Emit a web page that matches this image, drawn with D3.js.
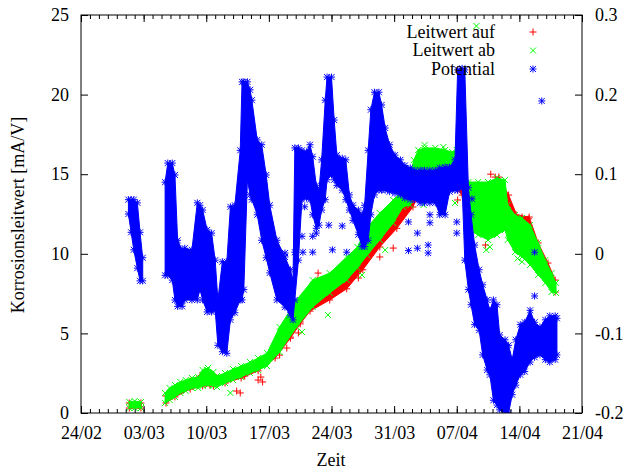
<!DOCTYPE html>
<html>
<head>
<meta charset="utf-8">
<script src="https://cdn.jsdelivr.net/npm/d3@7"></script>
<style>
	body { margin: 0; background: #fff; }
	#diagramm text { font-family: 'Liberation Serif', 'DejaVu Serif', serif; font-size: 18px; }
</style>
</head>
<body>
<svg id="diagramm" width="624" height="470"></svg>
<script>
/* global d3 */

// Achsen und Beschriftung
var xTickTage = [0, 7, 14, 21, 28, 35, 42, 49, 56];
var xTickLabels = ['24/02', '03/03', '10/03', '17/03', '24/03', '31/03', '07/04', '14/04', '21/04'];
var yLinksTicks = [0, 5, 10, 15, 20, 25];
var yRechtsTicks = [-0.2, -0.1, 0, 0.1, 0.2, 0.3];
var yRechtsLabels = ['-0.2', '-0.1', '0', '0.1', '0.2', '0.3'];
var legendeTexte = ['Leitwert auf', 'Leitwert ab', 'Potential'];

// Potential [V] als Band: [Tag seit 24/02, obere Kante, untere Kante], null = Luecke
var potBand = [
	[5.3, 0.068, 0.050], [5.6, 0.068, 0.027], [5.9, 0.068, 0.005], [6.3, 0.064, -0.018],
	[6.6, 0.027, -0.034], [6.9, -0.005, -0.034], [8.0, null, null],
	[9.4, 0.090, -0.027], [9.7, 0.114, -0.027], [10.2, 0.114, -0.033], [10.5, 0.099, -0.058],
	[10.8, 0.017, -0.066], [11.3, 0.005, -0.066], [11.6, 0.007, -0.058], [12.4, 0.005, -0.058],
	[13.0, 0.064, -0.058], [13.3, 0.061, -0.045], [13.6, 0.055, -0.058], [14.1, 0.030, -0.073],
	[14.6, 0.026, -0.073], [15.0, -0.008, -0.071], [15.3, -0.058, -0.115], [15.8, -0.010, -0.123],
	[16.3, -0.010, -0.125], [16.7, 0.059, -0.083], [17.2, 0.061, -0.074], [17.8, 0.130, -0.058],
	[18.0, 0.216, -0.058], [18.2, 0.216, -0.045], [18.6, 0.216, 0.093], [18.9, 0.206, 0.074],
	[19.1, 0.193, 0.068], [19.7, 0.143, 0.049], [20.2, 0.137, 0.017], [20.7, 0.099, -0.005],
	[21.1, 0.061, -0.024], [21.9, 0.017, -0.058], [22.8, -0.004, -0.067], [23.4, -0.020, -0.077],
	[23.7, -0.033, -0.083], [23.9, 0.133, -0.058], [24.3, 0.133, -0.008], [24.7, 0.130, 0.068],
	[25.2, 0.128, 0.070], [25.6, 0.137, 0.068], [25.9, 0.122, 0.049], [26.3, 0.086, 0.032],
	[26.6, 0.080, 0.036], [26.9, 0.118, 0.055], [27.3, 0.193, 0.068], [27.5, 0.222, 0.093],
	[28.0, 0.222, 0.099], [28.3, 0.168, 0.093], [28.6, 0.124, 0.086], [29.2, 0.120, 0.080],
	[29.6, 0.118, 0.068], [30.0, 0.074, 0.055], [30.4, 0.061, 0.042], [31.0, 0.055, 0.024],
	[31.4, 0.049, 0.009], [31.7, 0.061, 0.009], [32.1, 0.130, 0.017], [32.4, 0.181, 0.049],
	[32.8, 0.203, 0.074], [33.3, 0.203, 0.080], [33.6, 0.187, 0.080], [34.0, 0.158, 0.080],
	[34.5, 0.137, 0.078], [35.1, 0.124, 0.076], [35.7, 0.118, 0.074], [36.2, 0.111, 0.070],
	[36.8, 0.108, 0.068], [37.3, 0.105, 0.068], [37.9, 0.105, 0.064], [38.4, 0.105, 0.064],
	[39.0, 0.105, 0.064], [39.6, 0.105, 0.064], [40.1, 0.108, 0.049], [40.7, 0.109, 0.049],
	[41.2, 0.109, 0.078], [41.8, 0.118, 0.080], [42.1, 0.231, 0.080], [42.6, 0.233, 0.083],
	[42.9, 0.231, -0.008], [43.3, 0.083, -0.045], [43.6, 0.049, -0.064], [44.0, 0.011, -0.089],
	[44.5, -0.020, -0.096], [44.9, -0.039, -0.127], [45.4, -0.058, -0.146], [45.7, -0.071, -0.152],
	[46.1, -0.058, -0.184], [46.5, -0.064, -0.190], [46.8, -0.102, -0.196], [47.4, -0.108, -0.200],
	[47.8, -0.115, -0.200], [48.2, -0.133, -0.177], [48.6, -0.108, -0.165], [49.1, -0.089, -0.152],
	[49.6, -0.086, -0.148], [50.2, -0.071, -0.136], [50.7, -0.086, -0.130], [51.3, -0.092, -0.127],
	[51.9, -0.083, -0.133], [52.4, -0.078, -0.136], [53.0, -0.078, -0.133], [53.2, -0.081, -0.127]
];
// einzelne Potential-Ausreisser [Tag, Wert]
var potEinzeln = [
	[24.7, 0.022], [25.9, 0.022], [25.0, 0.059], [22.8, 0.001], [23.9, 0.002], [24.8, 0.002],
	[25.9, 0.002], [26.3, 0.026], [27.7, 0.036], [29.2, 0.035], [28.1, 0.005], [29.7, 0.002],
	[36.6, 0.040], [36.6, 0.004], [37.6, 0.026], [37.6, 0.007], [38.8, 0.011], [38.8, 0.001],
	[39.0, 0.049], [39.0, 0.039], [42.0, 0.040], [42.0, 0.026], [43.7, 0.069], [50.7, 0.002],
	[50.7, -0.053], [51.5, 0.192]
];

// Leitwert ab [mA/V]
var abBand = [
	[5.4, 0.69, 0.31], [6.0, 0.75, 0.31], [6.7, 0.69, 0.31], [8.0, null, null],
	[9.4, 1.26, 0.63], [9.9, 1.57, 0.82], [10.5, 1.76, 1.01], [11.1, 1.95, 1.26],
	[11.7, 2.07, 1.38], [12.4, 2.20, 1.57], [13.1, 2.26, 1.57], [13.6, 2.70, 1.70],
	[14.2, 2.83, 1.76], [14.8, 2.58, 1.70], [15.2, 2.32, 1.63], [16.1, 2.51, 1.88],
	[17.0, 2.76, 2.07], [17.9, 2.95, 2.26], [18.9, 3.20, 2.51], [19.8, 3.45, 2.70],
	[20.8, 3.77, 2.95], [22.2, 5.40, 3.83], [24.1, 7.10, 5.40], [25.9, 8.35, 6.66],
	[27.8, 8.79, 7.54], [29.7, 9.80, 8.35], [30.9, 10.43, 9.11], [32.0, 11.68, 9.92],
	[33.4, 12.56, 10.87], [34.9, 13.38, 11.93], [36.0, 14.01, 12.94], [36.8, 14.95, 13.07],
	[37.2, 15.89, 13.69], [37.7, 16.52, 14.95], [38.4, 16.65, 15.14], [39.6, 16.65, 15.14],
	[40.7, 16.52, 14.64], [41.5, 16.39, 15.14], [42.0, 16.52, 14.64], [42.6, 15.89, 14.32],
	[43.3, 14.51, 11.50], [44.4, 14.51, 11.18], [45.5, 14.51, 10.87], [46.5, 14.76, 11.18],
	[47.4, 14.64, 11.50], [47.7, 13.07, 10.87], [48.5, 12.44, 10.11], [49.3, 12.25, 9.80],
	[50.2, 11.81, 9.30], [51.1, 10.68, 8.67], [51.9, 9.61, 8.17], [52.6, 8.79, 7.60],
	[53.1, 8.17, 7.54]
];
var abEinzeln = [
	[16.7, 1.26], [14.1, 2.70], [24.7, 5.09], [27.6, 6.16], [31.4, 8.67], [34.0, 10.24],
	[38.3, 13.07], [41.8, 13.19], [44.2, 24.31], [45.3, 10.24], [45.7, 10.43], [48.8, 9.70],
	[49.3, 9.50], [40.5, 16.71], [38.4, 16.83]
];

// Leitwert auf [mA/V]
var aufBand = [
	[5.4, 0.63, 0.31], [6.7, 0.63, 0.31], [8.0, null, null],
	[9.5, 1.07, 0.63], [10.5, 1.57, 1.01], [12.2, 2.01, 1.50], [13.6, 2.51, 1.70],
	[14.8, 2.39, 1.70], [16.1, 2.32, 1.88], [17.9, 2.76, 2.20], [19.8, 3.20, 2.65],
	[21.7, 3.83, 3.45], [23.4, 4.77, 4.70], [24.5, 5.72, 5.60], [25.6, 7.10, 6.40],
	[27.8, 8.35, 7.10], [29.7, 8.98, 7.80], [31.5, 10.24, 9.00], [33.4, 11.81, 10.43],
	[35.3, 13.07, 11.60], [37.1, 13.69, 12.94], [37.7, 15.26, 13.69], [38.4, 15.58, 14.01],
	[40.7, 15.58, 14.01], [42.1, 15.58, 14.01], [42.6, 14.95, 13.69], [43.3, 14.01, 11.81],
	[45.6, 14.20, 11.50], [46.7, 14.82, 12.44], [47.8, 13.69, 12.44], [48.7, 12.44, 11.81],
	[50.1, 12.31, 11.37], [51.1, 10.68, 9.49], [52.2, 9.42, 8.35], [53.0, 8.35, 7.60]
];
var aufEinzeln = [
	[17.4, 1.38], [17.8, 1.26], [18.3, 2.32], [19.8, 2.07], [20.1, 2.26], [20.3, 1.95],
	[14.4, 1.76], [22.2, 3.64], [23.0, 4.08], [24.3, 5.03], [26.5, 8.79], [26.4, 8.35],
	[31.0, 8.48], [33.4, 9.80], [34.9, 10.36], [37.3, 13.38], [42.1, 13.38], [46.3, 14.82],
	[45.2, 10.55], [49.9, 10.11], [48.5, 10.87], [45.8, 15.00], [49.3, 12.31], [50.0, 12.20]
];

var rand = {links: 81, rechts: 582, oben: 15, unten: 413};

var x = d3.scaleLinear().domain([0, 56]).range([rand.links, rand.rechts]);
var yL = d3.scaleLinear().domain([0, 25]).range([rand.unten, rand.oben]);
var yR = d3.scaleLinear().domain([-0.2, 0.3]).range([rand.unten, rand.oben]);

var symbole = {
	plus: 'M-3.5,0H3.5M0,-3.5V3.5',
	kreuz: 'M-3,-3L3,3M-3,3L3,-3',
	stern: 'M-3.5,0H3.5M0,-3.5V3.5M-3,-3L3,3M-3,3L3,-3'
};

var svg = d3.select('#diagramm');
svg.append('defs').append('clipPath').attr('id', 'plotclip').append('rect')
	.attr('x', rand.links).attr('y', rand.oben)
	.attr('width', rand.rechts - rand.links).attr('height', rand.unten - rand.oben);
var gDaten = svg.append('g').attr('clip-path', 'url(#plotclip)');

/* zeichneReihe: Band als Flaeche, Kanten und Ausreisser als Symbole */
function zeichneReihe (band, einzeln, yScale, farbe, symbol) {
	var flaeche = d3.area()
		.defined(function (d) { return d[1] !== null; })
		.x(function (d) { return x(d[0]); })
		.y0(function (d) { return yScale(d[2]); })
		.y1(function (d) { return yScale(d[1]); });
	var g = gDaten.append('g');
	g.append('path').datum(band).attr('d', flaeche)
		.attr('fill', farbe).attr('stroke', farbe).attr('stroke-width', 1);
	var punkte = [];
	band.forEach(function (d) {
		if (d[1] !== null) {
			punkte.push([d[0], d[1]]);
			punkte.push([d[0], d[2]]);
		}
	});
	punkte = punkte.concat(einzeln);
	g.selectAll('path.sym').data(punkte).enter().append('path')
		.attr('class', 'sym')
		.attr('d', symbol)
		.attr('transform', function (d) { return 'translate(' + x(d[0]) + ',' + yScale(d[1]) + ')'; })
		.attr('fill', 'none').attr('stroke', farbe).attr('stroke-width', 1);
}

zeichneReihe(aufBand, aufEinzeln, yL, '#ff0000', symbole.plus);
zeichneReihe(abBand, abEinzeln, yL, '#00ff00', symbole.kreuz);
zeichneReihe(potBand, potEinzeln, yR, '#0000ff', symbole.stern);

// Achsen
function achse (gen, transform) {
	var g = svg.append('g').attr('transform', transform).call(gen);
	g.select('.domain').remove();
	g.attr('font-family', null).attr('font-size', null);
	return g;
}
var tageAlle = d3.range(0, 57);
achse(d3.axisBottom(x).tickValues(tageAlle).tickFormat('').tickSizeInner(-4).tickSizeOuter(0), 'translate(0,' + rand.unten + ')');
achse(d3.axisBottom(x).tickValues(xTickTage).tickFormat(function (d, i) { return xTickLabels[i]; })
	.tickSizeInner(-7).tickSizeOuter(0).tickPadding(13), 'translate(0,' + rand.unten + ')');
achse(d3.axisTop(x).tickValues(tageAlle).tickFormat('').tickSizeInner(-4).tickSizeOuter(0), 'translate(0,' + rand.oben + ')');
achse(d3.axisTop(x).tickValues(xTickTage).tickFormat('').tickSizeInner(-7).tickSizeOuter(0), 'translate(0,' + rand.oben + ')');
achse(d3.axisLeft(yL).tickValues(yLinksTicks).tickSizeInner(-7).tickSizeOuter(0).tickPadding(12), 'translate(' + rand.links + ',0)');
achse(d3.axisRight(yR).tickValues(yRechtsTicks).tickFormat(function (d, i) { return yRechtsLabels[i]; })
	.tickSizeInner(-7).tickSizeOuter(0).tickPadding(13), 'translate(' + rand.rechts + ',0)');

svg.append('rect')
	.attr('x', rand.links).attr('y', rand.oben)
	.attr('width', rand.rechts - rand.links).attr('height', rand.unten - rand.oben)
	.attr('fill', 'none').attr('stroke', '#000').attr('stroke-width', 1);

// Achsentitel
svg.append('text').attr('transform', 'translate(24,215) rotate(-90)')
	.attr('text-anchor', 'middle').text('Korrosionsleitwert [mA/V]');
svg.append('text').attr('x', 331).attr('y', 466).attr('text-anchor', 'middle').text('Zeit');

// Legende
var legendeFarben = ['#ff0000', '#00ff00', '#0000ff'];
var legendeSymbole = [symbole.plus, symbole.kreuz, symbole.stern];
var gLeg = svg.append('g');
legendeTexte.forEach(function (t, i) {
	var y = 32 + i * 18.5;
	gLeg.append('text').attr('x', 495).attr('y', y).attr('dy', '0.32em')
		.attr('text-anchor', 'end').text(t);
	gLeg.append('path').attr('d', legendeSymbole[i])
		.attr('transform', 'translate(533,' + y + ')')
		.attr('fill', 'none').attr('stroke', legendeFarben[i]).attr('stroke-width', 1);
});
</script>
</body>
</html>
